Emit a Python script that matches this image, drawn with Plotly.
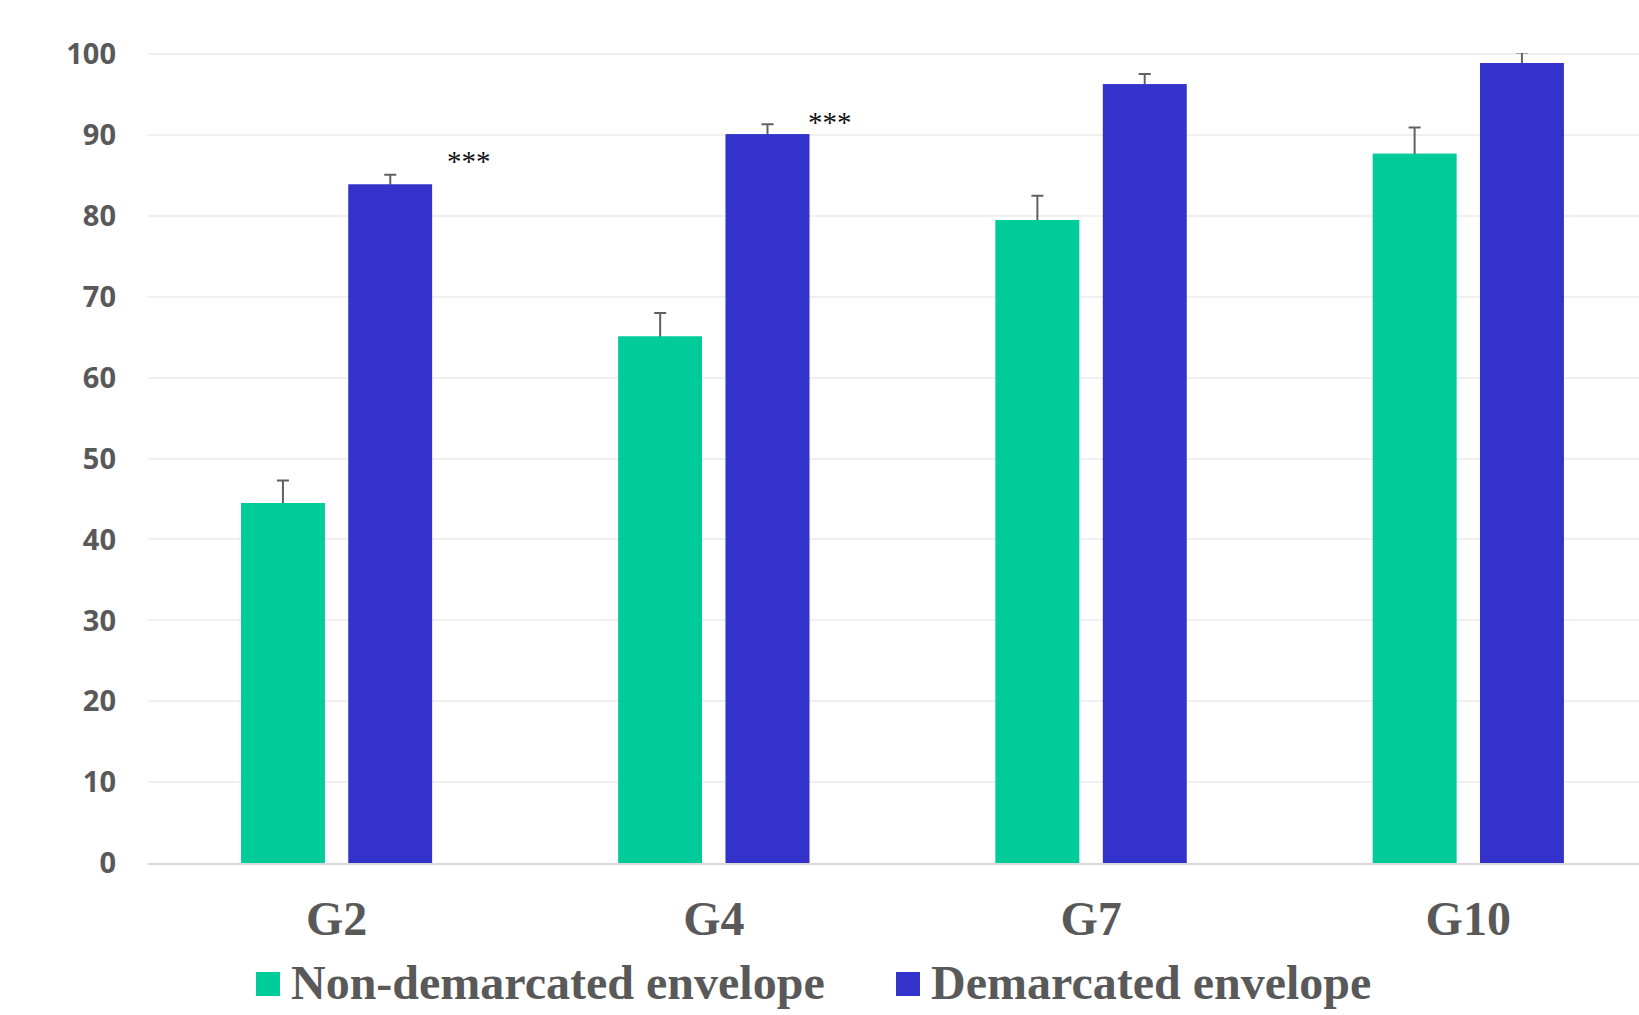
import plotly.graph_objects as go

# ---- data -------------------------------------------------------------
groups = ["G2", "G4", "G7", "G10"]
series_names = ["Non-demarcated envelope", "Demarcated envelope"]
non_demarcated = [44.5, 65.1, 79.5, 87.7]
non_demarcated_err = [2.8, 2.9, 3.0, 3.25]
demarcated = [83.9, 90.1, 96.3, 98.9]
demarcated_err = [1.2, 1.25, 1.25, 1.3]
significance = ["***", "***"]          # marks shown next to G2 and G4
y_ticks = list(range(0, 101, 10))

# ---- style ------------------------------------------------------------
GREEN = "#00CC99"
BLUE = "#3333CC"
TEXT_GREY = "#595959"
ERR_GREY = "#616161"
W, H = 1639, 1015
L, R, T, B = 148, 0, 53, 152


def paper_x(px):
    return (px - L) / (W - L - R)


def paper_y(py):
    return (H - B - py) / (H - T - B)


def err(vals):
    return dict(type="data", array=vals, symmetric=True, color=ERR_GREY,
                thickness=2, width=6)


fig = go.Figure()
# bars with their error whiskers
fig.add_bar(x=groups, y=non_demarcated, name=series_names[0], offsetgroup="a",
            marker=dict(color=GREEN, line=dict(width=0)),
            error_y=err(non_demarcated_err), showlegend=False)
fig.add_bar(x=groups, y=demarcated, name=series_names[1], offsetgroup="b",
            marker=dict(color=BLUE, line=dict(width=0)),
            error_y=err(demarcated_err), showlegend=False)
# same bars again on top so only the upper half of each whisker shows
fig.add_bar(x=groups, y=non_demarcated, offsetgroup="a", hoverinfo="skip",
            marker=dict(color=GREEN, line=dict(width=0)), showlegend=False)
fig.add_bar(x=groups, y=demarcated, offsetgroup="b", hoverinfo="skip",
            marker=dict(color=BLUE, line=dict(width=0)), showlegend=False)

annotations = []
# significance stars
for (xpos, ypos), txt in zip([(0.35, 86.85), (1.307, 91.65)], significance):
    annotations.append(dict(x=xpos, y=ypos, xref="x", yref="y", text=txt,
                            showarrow=False, xanchor="center", yanchor="middle",
                            font=dict(family="Liberation Serif", size=29,
                                      color="#111111")))

# legend built from swatches + labels
shapes = []
legend_items = [(256, 289, GREEN, series_names[0]),
                (896, 929, BLUE, series_names[1])]
for sx, tx, col, name in legend_items:
    shapes.append(dict(type="rect", xref="paper", yref="paper",
                       x0=paper_x(sx), x1=paper_x(sx + 24),
                       y0=paper_y(996), y1=paper_y(972),
                       fillcolor=col, line=dict(width=0)))
    annotations.append(dict(x=paper_x(tx), y=paper_y(982), xref="paper",
                            yref="paper", text=name, showarrow=False,
                            xanchor="left", yanchor="middle",
                            font=dict(family="Liberation Serif", size=48,
                                      color=TEXT_GREY, weight="bold")))

fig.update_layout(
    width=W, height=H,
    margin=dict(l=L, r=R, t=T, b=B, pad=0),
    paper_bgcolor="white", plot_bgcolor="white",
    barmode="group", bargap=0.431, bargroupgap=0.221,
    showlegend=False,
    annotations=annotations, shapes=shapes,
)
fig.update_xaxes(
    type="category", range=[-0.5, 3.4526],
    showgrid=False, zeroline=False,
    showline=True, linecolor="#D9D9D9", linewidth=2,
    ticks="", ticklabelstandoff=12,
    tickfont=dict(family="Liberation Serif", size=48, color=TEXT_GREY,
                  weight="bold"),
)
fig.update_yaxes(
    range=[0, 100.15], tickvals=y_ticks,
    showgrid=True, gridcolor="#F0F0F0", gridwidth=2,
    zeroline=False, showline=False, ticks="", ticklabelstandoff=31,
    tickfont=dict(family="Open Sans", size=29, color=TEXT_GREY, weight="bold"),
)

fig.write_html("out.html")
